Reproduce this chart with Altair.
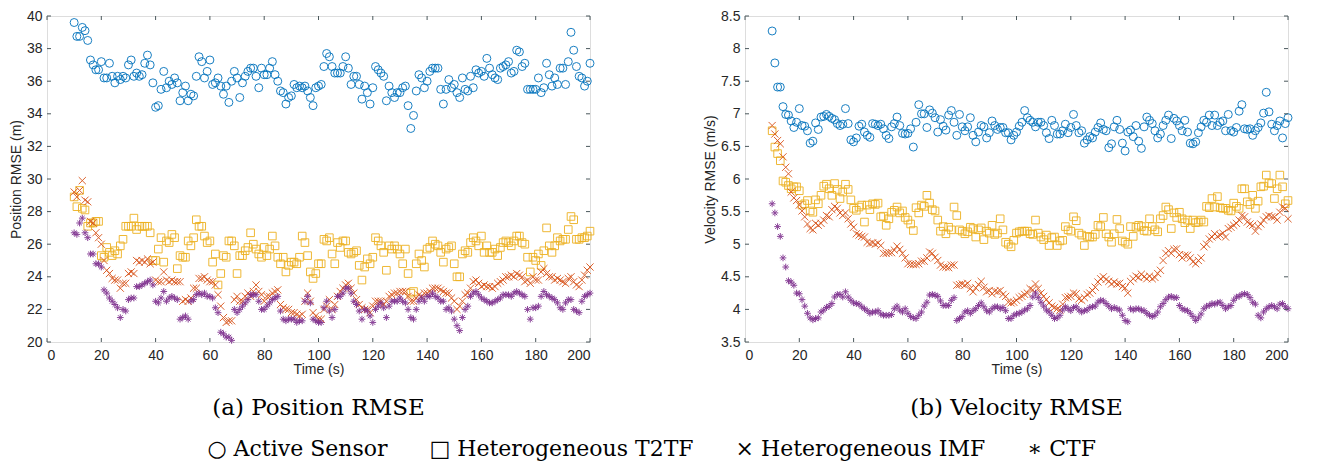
import altair as alt
import pandas as pd

series = ["Active Sensor", "Heterogeneous T2TF", "Heterogeneous IMF", "CTF"]
legend_symbols = ["\u25cb", "\u25a1", "\u00d7", "\u2217"]
colors = ["#0072BD", "#EDB120", "#D95319", "#7E2F8E"]
shapes = ["circle", "square",
          "M-1,-1L1,1M-1,1L1,-1",
          "M-1,0L1,0M0,-1L0,1M-0.7,-0.7L0.7,0.7M-0.7,0.7L0.7,-0.7"]
sizes = [64, 45, 40, 55]

t0 = 10  # first time stamp (s), one sample per second

pos_active = [
    39.6, 38.75, 38.75, 39.3, 39.1, 38.5, 37.3, 37.0, 36.7, 36.7,
    37.2, 36.2, 36.2, 37.1, 36.3, 35.9, 36.3, 36.1, 36.3, 36.2,
    37.0, 37.3, 36.3, 36.5, 36.3, 36.4, 37.1, 37.6, 37.0, 35.9,
    34.4, 34.5, 35.5, 36.6, 35.6, 36.0, 35.8, 36.2, 35.9, 34.8,
    35.3, 35.7, 34.8, 35.2, 35.1, 36.3, 37.5, 37.2, 36.2, 36.6,
    37.3, 35.8, 35.9, 36.2, 35.7, 35.2, 35.7, 34.7, 36.0, 36.6,
    36.2, 35.0, 35.9, 36.3, 36.6, 36.8, 36.8, 36.3, 35.6, 36.8,
    36.4, 36.4, 36.8, 37.2, 36.4, 36.0, 35.4, 35.3, 34.6, 35.0,
    35.1, 35.8, 35.6, 35.7, 35.6, 35.7, 35.4, 35.0, 34.5, 35.6,
    35.7,
    35.8, 36.9, 37.7, 37.5, 36.9, 36.5, 36.5, 36.5, 36.9,
    37.5, 36.8, 35.8, 36.3, 36.3, 35.8, 34.9, 35.7, 35.3, 34.6,
    35.6, 36.9, 36.7, 36.5, 36.3, 34.8, 35.7, 35.3, 35.0, 35.3,
    35.3, 35.6, 35.7, 34.5, 33.1, 33.9, 35.4, 36.4, 36.2, 35.6,
    36.0, 36.6, 36.8, 36.8, 36.8, 35.5, 34.6, 35.5, 36.1, 35.6,
    35.8, 35.3, 35.0, 36.2, 35.5, 35.4, 36.3, 35.6, 36.7, 36.5,
    36.6, 36.3, 37.4, 36.8, 36.4, 36.2, 36.1, 36.8, 36.9, 37.0,
    37.2, 36.5, 36.6, 37.9, 37.8, 36.9, 37.1, 35.5, 35.5, 35.5,
    35.5, 36.2, 35.3, 35.6, 37.1, 36.4, 35.7, 36.2, 35.8, 36.8,
    36.8, 35.8, 37.2, 39.0, 37.9, 36.9, 36.3, 36.2, 35.7, 36.0,
    37.1,
]
pos_t2tf = [
    28.9, 28.3, 29.3, 28.2, 28.1, 27.1, 27.3, 27.3, 27.4, 27.4,
    25.3, 25.2, 25.8, 25.5, 25.3, 25.6, 25.4, 25.9, 26.3, 27.1,
    27.1, 27.1, 27.6, 26.9, 27.1, 27.1, 27.1, 27.1, 26.7, 25.0,
    25.0, 25.7, 26.4, 24.9, 26.2, 26.1, 26.6, 26.4, 24.5, 25.3,
    25.2, 25.2, 26.2, 25.9, 26.4, 27.5, 27.1, 27.1, 26.5, 26.1,
    26.2, 24.9, 25.4, 23.5, 24.2, 25.3, 25.2, 26.2, 26.2, 25.9,
    24.2, 25.3, 25.3, 25.6, 25.8, 26.7, 26.0, 25.7, 25.4, 25.2,
    25.8, 25.3, 25.7, 26.5, 25.9, 25.2, 24.8, 25.2, 24.3, 24.7,
    24.9, 24.9, 24.8, 25.2, 26.5, 26.1, 25.3, 24.3, 23.9, 24.2,
    24.8,
    24.8, 26.3, 26.2, 26.4, 25.4, 24.8, 26.1, 25.8, 26.2,
    26.2, 25.5, 25.4, 25.5, 25.6, 24.7, 23.8, 24.6, 25.1, 24.8,
    25.2, 26.4, 26.2, 25.9, 25.5, 24.4, 25.9, 25.7, 25.9, 25.7,
    25.4, 24.8, 25.7, 24.2, 23.0, 23.1, 24.8, 25.4, 25.0, 24.6,
    25.7, 25.8, 26.2, 26.0, 25.9, 25.5, 24.9, 25.7, 25.8, 25.9,
    24.8, 24.0, 24.0, 25.4, 25.6, 25.5, 26.1, 26.4, 26.2, 25.9,
    26.5, 25.5, 25.9, 25.5, 25.5, 25.7, 25.3, 25.8, 26.1, 26.2,
    26.1, 25.9, 26.2, 26.5, 26.5, 26.1, 26.0, 25.2, 24.3, 25.2,
    25.0, 25.4, 24.7, 25.6, 27.0, 25.9, 25.5, 25.9, 26.4, 26.2,
    26.3, 26.3, 26.9, 27.7, 27.5, 26.3, 26.3, 26.4, 26.4, 26.5,
    26.8,
]
pos_imf = [
    29.2, 28.9, 29.3, 29.9, 28.7, 28.6, 27.4, 27.3, 26.7, 26.4,
    26.0, 25.0, 24.4, 24.2, 23.9, 23.8, 23.8, 23.3, 23.6, 23.6,
    24.2, 24.3, 24.2, 25.0, 24.9, 25.0, 24.9, 25.1, 24.8, 24.9,
    23.8, 23.7, 23.7, 24.3, 23.8, 23.7, 23.8, 23.7, 23.7, 23.7,
    22.5, 22.6, 22.5, 22.7, 23.3, 23.3, 23.9, 23.9, 24.0, 23.8,
    23.7, 23.7, 23.5, 22.9, 22.2, 21.5, 21.2, 21.3, 21.3, 22.6,
    22.8, 22.5, 22.5, 22.8, 23.0, 22.8, 23.1, 23.5, 23.1, 22.9,
    22.5, 22.8, 22.8, 23.0, 23.1, 23.2, 22.3, 22.1, 22.0, 22.0,
    21.8, 21.8, 21.7, 21.6, 21.7, 22.5, 23.0, 22.5, 21.8, 21.6,
    21.4,
    21.4, 22.0, 22.2, 22.6, 22.0, 22.3, 22.8, 23.1, 23.3,
    23.5, 23.6, 23.3, 23.0, 22.6, 22.3, 22.1, 22.0, 22.0, 21.8,
    22.2, 22.5, 22.5, 22.5, 22.3, 22.5, 22.8, 22.9, 23.0, 23.0,
    23.1, 23.1, 23.1, 22.8, 22.5, 22.5, 22.7, 22.9, 22.8, 23.0,
    23.0, 23.1, 23.3, 23.3, 23.3, 23.2, 23.1, 23.0, 23.0, 22.7,
    22.5, 22.0, 22.2, 22.5, 22.9, 23.0, 23.3, 23.7, 23.8, 23.6,
    23.4, 23.5, 23.4, 23.4, 23.3, 23.4, 23.6, 23.7, 23.8, 24.0,
    24.0, 24.1, 24.0, 24.2, 24.1, 24.0, 23.7, 23.8, 23.6, 24.0,
    23.8, 23.8, 24.3, 24.5, 24.2, 24.0, 24.0, 23.8, 23.9, 23.8,
    23.7, 23.6, 23.9, 24.0, 23.7, 23.5, 23.4, 23.8, 24.1, 24.4,
    24.6,
]
pos_ctf = [
    26.7, 26.6, 27.3, 27.6, 26.7, 26.4, 25.4, 25.4, 24.8, 24.8,
    24.6, 23.2, 23.0, 22.7, 22.5, 22.3, 22.1, 21.5, 22.0, 21.9,
    22.6, 22.7, 22.7, 23.4, 23.4, 23.5, 23.6, 23.7, 23.8, 23.5,
    22.5, 22.4, 22.7, 23.1, 22.5, 22.7, 22.8, 22.7, 22.6, 21.4,
    21.5, 21.6, 21.4, 22.5, 22.6, 22.9, 23.0, 22.9, 23.0, 22.8,
    22.8, 22.7, 22.1, 21.8, 20.6, 20.5, 20.3, 20.3, 20.1, 22.0,
    21.8, 22.0, 22.2, 22.4, 22.6, 22.9, 22.9, 22.9, 22.5, 22.0,
    22.0, 22.2, 22.4, 22.6, 22.7, 22.8, 21.9, 21.4, 21.3, 21.4,
    21.4, 21.4, 21.2, 21.3, 21.3, 22.5, 22.8, 22.4, 21.4, 21.3,
    21.2,
    21.2, 22.1, 22.5, 21.9, 21.5, 22.0, 22.8, 22.8, 23.0,
    23.3, 23.3, 23.0, 22.5, 22.3, 21.9, 21.4, 22.0, 21.9, 21.6,
    21.2, 22.0, 22.2, 22.4, 22.1, 21.5, 22.2, 22.5, 22.5, 22.5,
    22.7, 22.5, 22.4, 22.0, 21.5, 21.4, 22.0, 22.5, 22.7, 22.5,
    22.8, 22.8, 23.0, 22.8, 22.7, 22.5, 22.5, 22.0, 22.1, 21.9,
    21.4, 21.0, 20.7, 21.5, 22.0, 22.2, 22.8, 23.0, 23.1, 22.9,
    22.7, 22.6, 22.5, 22.4, 22.4, 22.5, 22.6, 22.7, 22.9, 22.9,
    22.9, 22.8, 23.0, 23.1, 23.0, 22.9, 22.8, 22.0, 21.4, 22.1,
    22.1, 22.2, 22.8, 23.1, 22.9, 22.8, 22.7, 22.6, 22.4, 22.1,
    22.0, 22.4, 22.6, 22.6, 22.0, 21.9, 21.8, 22.5, 22.8, 22.9,
    23.0,
]

vel_active = [
    8.27, 7.78, 7.41, 7.41, 7.11, 6.99, 6.98, 6.89, 6.79, 6.87,
    7.08, 6.82, 6.81, 6.74, 6.55, 6.58, 6.86, 6.76, 6.95, 6.96,
    6.99, 6.96, 6.93, 6.91, 6.85, 6.82, 6.84, 7.08, 6.85, 6.60,
    6.57, 6.63, 6.81, 6.84, 6.72, 6.67, 6.64, 6.85, 6.84, 6.82,
    6.84, 6.77, 6.67, 6.62, 6.80, 6.85, 6.95, 6.82, 6.70, 6.69,
    6.70, 6.77, 6.49, 6.87, 7.14, 7.00, 7.00, 6.79, 7.06, 7.01,
    6.94, 6.72, 6.91, 6.81, 6.75, 6.98, 7.05, 6.87, 6.67, 6.99,
    6.80, 6.74, 6.80, 6.94, 6.67, 6.57, 6.72, 6.82, 6.80, 6.63,
    6.71, 6.89, 6.82, 6.76, 6.79, 6.79, 6.71, 6.71, 6.60, 6.67,
    6.72,
    6.81, 6.87, 7.05, 6.94, 6.90, 6.87, 6.80, 6.87, 6.87,
    6.82, 6.71, 6.62, 6.90, 6.82, 6.69, 6.69, 6.74, 6.84, 6.71,
    6.79, 6.99, 6.82, 6.71, 6.74, 6.55, 6.60, 6.65, 6.63, 6.72,
    6.79, 6.86, 6.76, 6.74, 6.48, 6.54, 6.80, 6.90, 6.76, 6.55,
    6.43, 6.72, 6.75, 6.65, 6.82, 6.58, 6.47, 6.80, 6.95, 6.90,
    6.85, 6.74, 6.63, 6.69, 6.82, 6.90, 6.98, 6.62, 6.93, 6.89,
    6.82, 6.74, 6.90, 6.72, 6.55, 6.54, 6.57, 6.71, 6.80, 6.90,
    6.87, 6.98, 6.82, 6.98, 6.82, 6.87, 6.89, 6.74, 6.99, 6.74,
    6.72, 6.79, 7.04, 7.14, 6.77, 6.76, 6.77, 6.67, 6.74, 6.79,
    6.86, 7.01, 7.33, 7.03, 6.84, 6.74, 6.82, 6.89, 6.63, 6.85,
    6.94,
]
vel_t2tf = [
    6.74, 6.49, 6.39, 6.28, 5.97, 5.95, 5.90, 5.85, 5.88, 5.88,
    5.82, 5.60, 5.62, 5.67, 5.51, 5.49, 5.68, 5.62, 5.75, 5.89,
    5.92, 5.85, 5.75, 5.93, 5.84, 5.70, 5.80, 5.92, 5.84, 5.68,
    5.55, 5.52, 5.57, 5.60, 5.34, 5.60, 5.53, 5.62, 5.61, 5.63,
    5.42, 5.43, 5.29, 5.39, 5.49, 5.52, 5.57, 5.48, 5.51, 5.41,
    5.37, 5.31, 5.21, 5.56, 5.48, 5.60, 5.58, 5.75, 5.63, 5.53,
    5.51, 5.37, 5.20, 5.27, 5.16, 5.26, 5.22, 5.57, 5.44, 5.22,
    5.20, 5.16, 5.19, 5.26, 5.24, 5.11, 5.22, 5.25, 5.07, 5.20,
    5.17, 5.29, 5.15, 5.17, 5.39, 5.22, 5.03, 5.00, 4.96, 5.06,
    5.17,
    5.19, 5.20, 5.20, 5.20, 5.16, 5.15, 5.37, 5.17, 5.11,
    5.07, 5.14, 4.98, 5.10, 5.11, 4.98, 5.05, 5.06, 5.27, 5.22,
    5.20, 5.42, 5.36, 5.17, 5.14, 4.98, 5.12, 5.11, 5.11, 5.15,
    5.29, 5.27, 5.41, 5.16, 5.11, 5.03, 5.16, 5.38, 5.24, 5.05,
    5.03, 5.00, 5.27, 5.12, 5.26, 5.29, 5.27, 5.21, 5.20, 5.39,
    5.27, 5.22, 5.19, 5.39, 5.44, 5.57, 5.53, 5.24, 5.48, 5.41,
    5.49, 5.39, 5.33, 5.37, 5.24, 5.37, 5.33, 5.34, 5.37, 5.34,
    5.58, 5.56, 5.70, 5.57, 5.73, 5.56, 5.55, 5.55, 5.52, 5.51,
    5.63, 5.58, 5.55, 5.85, 5.85, 5.65, 5.61, 5.75, 5.55, 5.66,
    5.88, 5.89, 6.06, 5.94, 5.93, 5.70, 5.85, 6.06, 5.88, 5.62,
    5.67,
]
vel_imf = [
    6.82, 6.69, 6.59, 6.54, 6.34, 6.18, 6.08, 5.80, 5.71, 5.67,
    5.60, 5.51, 5.42, 5.31, 5.24, 5.22, 5.32, 5.29, 5.32, 5.37,
    5.44, 5.42, 5.53, 5.58, 5.55, 5.48, 5.44, 5.48, 5.39, 5.31,
    5.26, 5.16, 5.14, 5.12, 5.11, 5.03, 5.01, 5.02, 5.00, 5.02,
    4.98, 4.86, 4.86, 4.87, 4.87, 4.91, 4.97, 4.92, 4.86, 4.79,
    4.70, 4.69, 4.69, 4.69, 4.70, 4.74, 4.74, 4.79, 4.88, 4.86,
    4.80, 4.75, 4.68, 4.65, 4.65, 4.64, 4.68, 4.68, 4.37, 4.38,
    4.39, 4.37, 4.40, 4.32, 4.27, 4.33, 4.38, 4.43, 4.34, 4.27,
    4.29, 4.24, 4.28, 4.27, 4.29, 4.23, 4.20, 4.11, 4.10, 4.11,
    4.14,
    4.18, 4.20, 4.23, 4.25, 4.32, 4.30, 4.39, 4.32, 4.25,
    4.20, 4.15, 4.10, 4.05, 4.03, 4.01, 3.99, 4.08, 4.18, 4.19,
    4.20, 4.25, 4.24, 4.16, 4.14, 4.18, 4.23, 4.25, 4.29, 4.34,
    4.42, 4.47, 4.50, 4.46, 4.43, 4.39, 4.42, 4.39, 4.40, 4.35,
    4.33, 4.25, 4.43, 4.47, 4.51, 4.49, 4.54, 4.50, 4.47, 4.51,
    4.47, 4.49, 4.55, 4.60, 4.75, 4.86, 4.90, 4.86, 4.92, 4.93,
    4.84, 4.79, 4.83, 4.83, 4.79, 4.73, 4.70, 4.75, 4.79, 4.96,
    5.00, 5.08, 5.11, 5.16, 5.12, 5.14, 5.17, 5.11, 5.24, 5.26,
    5.29, 5.32, 5.37, 5.44, 5.42, 5.34, 5.31, 5.29, 5.20, 5.27,
    5.31, 5.37, 5.42, 5.44, 5.42, 5.42, 5.37, 5.49, 5.57, 5.55,
    5.39,
]
vel_ctf = [
    5.62, 5.48, 5.27, 5.12, 4.79, 4.65, 4.44, 4.42, 4.37, 4.25,
    4.24, 4.15, 4.05, 3.94, 3.87, 3.84, 3.86, 3.87, 3.96, 3.99,
    4.03, 4.05, 4.09, 4.19, 4.23, 4.23, 4.19, 4.27, 4.19, 4.14,
    4.10, 4.09, 4.08, 4.04, 4.01, 3.98, 3.94, 3.96, 3.96, 3.98,
    3.93, 3.91, 3.91, 3.91, 3.92, 4.01, 4.05, 3.99, 3.96, 4.01,
    3.94, 3.89, 3.87, 3.86, 3.91, 3.96, 4.05, 4.11, 4.22, 4.23,
    4.22, 4.20, 4.13, 4.06, 4.06, 4.06, 4.14, 4.18, 3.83, 3.86,
    3.89, 3.96, 3.98, 3.94, 3.98, 4.01, 4.06, 4.10, 4.04, 3.98,
    3.96, 4.01, 4.04, 4.04, 4.01, 4.03, 3.98, 3.86, 3.86, 3.91,
    3.93,
    3.94, 3.96, 3.99, 4.01, 4.06, 4.19, 4.25, 4.18, 4.11,
    4.05, 3.99, 3.96, 3.91, 3.86, 3.87, 3.91, 3.99, 4.04, 4.01,
    3.98, 4.03, 4.04, 3.99, 3.96, 3.98, 3.99, 4.03, 4.04, 4.05,
    4.11, 4.14, 4.13, 4.09, 4.05, 4.01, 4.03, 4.01, 3.99, 3.91,
    3.83, 3.81, 4.01, 3.99, 4.01, 4.01, 3.99, 3.98, 3.94, 3.91,
    3.89, 3.91, 3.96, 4.04, 4.09, 4.15, 4.19, 4.20, 4.18, 4.18,
    4.06, 4.01, 3.99, 3.98, 3.94, 3.89, 3.83, 3.87, 3.93, 4.01,
    4.05, 4.06, 4.09, 4.08, 4.10, 4.11, 4.06, 4.01, 4.04, 4.06,
    4.14, 4.19, 4.20, 4.23, 4.24, 4.23, 4.18, 4.11, 4.08, 3.91,
    3.87, 3.96, 4.01, 4.04, 4.06, 4.04, 4.01, 4.08, 4.09, 4.04,
    4.01,
]

x_ticks = [0, 20, 40, 60, 80, 100, 120, 140, 160, 180, 200]
pos_ticks = [20, 22, 24, 26, 28, 30, 32, 34, 36, 38, 40]
vel_ticks = [3.5, 4, 4.5, 5, 5.5, 6, 6.5, 7, 7.5, 8, 8.5]


def long_frame(lists):
    rows = []
    for name, vals in zip(series, lists):
        for i, v in enumerate(vals):
            rows.append({"t": t0 + i, "v": v, "series": name})
    return pd.DataFrame(rows)


pos_df = long_frame([pos_active, pos_t2tf, pos_imf, pos_ctf])
vel_df = long_frame([vel_active, vel_t2tf, vel_imf, vel_ctf])

W, H = 543, 326
AX = "#4a585c"
TXT = "#262626"
SANS = "Liberation Sans"
SERIF = "DejaVu Serif"
TL = 4
FS = 14
NB = "\u00a0"

# caption-style key line, as in the original LaTeX figure
legend_text = (NB * 6).join(f"{s}{NB}{n}" for s, n in zip(legend_symbols, series))

xs = alt.Scale(domain=[0, 200], nice=False, zero=False)
x_axis = alt.Axis(values=x_ticks, domain=False, ticks=False, grid=False,
                  labelPadding=6, titlePadding=0, labelExpr="'' + datum.value",
                  labelFont=SANS, labelFontSize=FS, labelColor=TXT,
                  titleFont=SANS, titleFontSize=FS, titleFontWeight="normal", titleColor=TXT)


def panel(df, ydom, yticks, ytitle, sub):
    ys = alt.Scale(domain=ydom, nice=False, zero=False)
    y_axis = alt.Axis(values=yticks, domain=False, ticks=False, grid=False,
                      labelPadding=5, titlePadding=3, labelExpr="'' + datum.value",
                      labelFont=SANS, labelFontSize=FS, labelColor=TXT,
                      titleFont=SANS, titleFontSize=FS, titleFontWeight="normal", titleColor=TXT)
    X = alt.X("t:Q", scale=xs, axis=x_axis, title="Time (s)")
    Y = alt.Y("v:Q", scale=ys, axis=y_axis, title=ytitle)
    pts = alt.Chart(df).mark_point(filled=False, strokeWidth=1, opacity=0.9).encode(
        x=X, y=Y,
        color=alt.Color("series:N", scale=alt.Scale(domain=series, range=colors), legend=None),
        shape=alt.Shape("series:N", scale=alt.Scale(domain=series, range=shapes), legend=None),
        size=alt.Size("series:N", scale=alt.Scale(domain=series, range=sizes), legend=None),
    )
    xt = pd.DataFrame({"t": x_ticks})
    yt = pd.DataFrame({"v": yticks})
    top = alt.Chart(xt).mark_rule(color=AX, strokeWidth=1).encode(x=X, y=alt.value(0), y2=alt.value(TL))
    bot = alt.Chart(xt).mark_rule(color=AX, strokeWidth=1).encode(x=X, y=alt.value(H), y2=alt.value(H - TL))
    lef = alt.Chart(yt).mark_rule(color=AX, strokeWidth=1).encode(y=Y, x=alt.value(0), x2=alt.value(TL))
    rig = alt.Chart(yt).mark_rule(color=AX, strokeWidth=1).encode(y=Y, x=alt.value(W), x2=alt.value(W - TL))
    return alt.layer(pts, top, bot, lef, rig).properties(
        width=W, height=H,
        title=alt.TitleParams(sub, orient="bottom", anchor="middle", font=SERIF,
                              fontSize=23, fontWeight="normal", color="black", offset=21),
    )


left = panel(pos_df, [20, 40], pos_ticks, "Position RMSE (m)", "(a) Position RMSE")
right = panel(vel_df, [3.5, 8.5], vel_ticks, "Velocity RMSE (m/s)", "(b) Velocity RMSE")

chart = alt.hconcat(left, right, spacing=106).properties(
    title=alt.TitleParams(legend_text, orient="bottom", anchor="middle", font=SERIF,
                          fontSize=22, fontWeight="normal", color="black", offset=18),
    padding={"left": 0, "top": 0, "right": 5, "bottom": 5},
).configure_view(
    stroke=AX, strokeWidth=1
).configure(background="white")

chart.save("out.html", embed_options={"renderer": "svg", "actions": False})
